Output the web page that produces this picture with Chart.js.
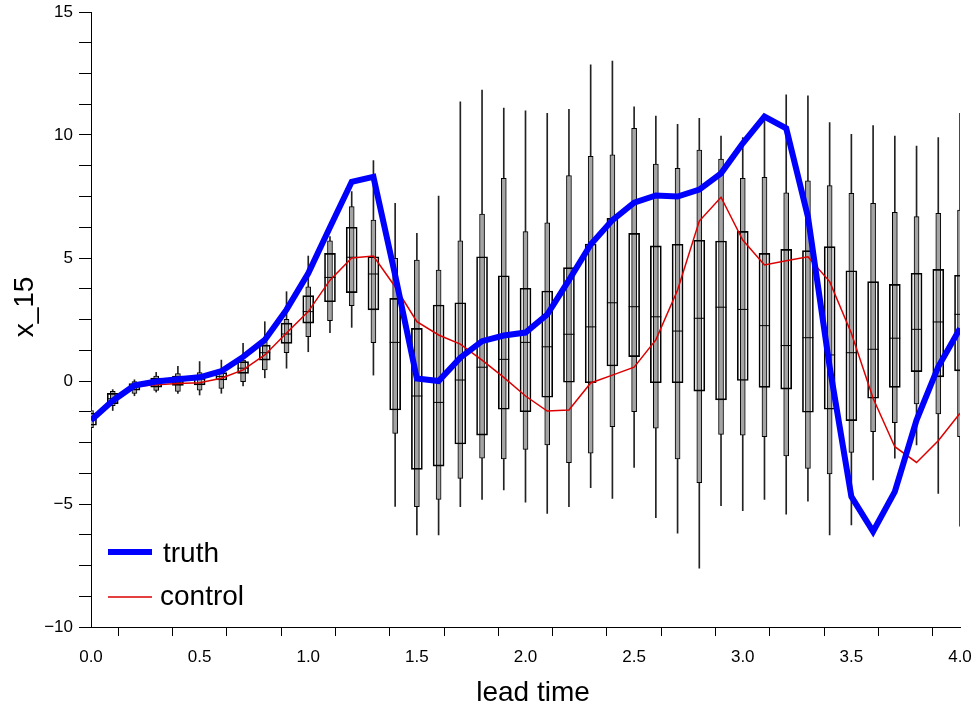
<!DOCTYPE html>
<html lang="en">
<head>
    <meta charset="UTF-8">
    <title>x_15 vs lead time</title>
    <script src="https://cdn.jsdelivr.net/npm/chart.js"></script>
    <style>
        html, body { margin: 0; padding: 0; background: #fff; }
        #wrap { width: 971px; height: 707px; }
    </style>
</head>
<body>
    <div id="wrap"><canvas id="boxChart" width="971" height="707"></canvas></div>
    <script>
        // lead times of the ensemble boxes
        const leadTime = [0.0, 0.1, 0.2, 0.3, 0.4, 0.5, 0.6, 0.7, 0.8, 0.9,
                          1.0, 1.1, 1.2, 1.3, 1.4, 1.5, 1.6, 1.7, 1.8, 1.9,
                          2.0, 2.1, 2.2, 2.3, 2.4, 2.5, 2.6, 2.7, 2.8, 2.9,
                          3.0, 3.1, 3.2, 3.3, 3.4, 3.5, 3.6, 3.7, 3.8, 3.9, 4.0];

        const truth = [-1.6, -0.8, -0.18, -0.02, 0.07, 0.15, 0.4, 0.98, 1.67, 2.9,
                       4.38, 6.25, 8.1, 8.3, 4.3, 0.1, 0.0, 0.95, 1.62, 1.85,
                       1.97, 2.7, 4.1, 5.55, 6.54, 7.25, 7.54, 7.5, 7.78, 8.44,
                       9.66, 10.75, 10.27, 6.68, 0.58, -4.7, -6.12, -4.5, -1.59, 0.58, 2.14];

        const control = [-1.5, -0.78, -0.22, -0.15, -0.1, -0.07, 0.11, 0.45, 1.06, 1.95,
                         2.82, 4.1, 5.0, 5.08, 3.83, 2.41, 1.87, 1.5, 0.85, 0.15,
                         -0.61, -1.22, -1.18, -0.08, 0.24, 0.56, 1.67, 3.7, 6.5, 7.47,
                         5.73, 4.72, 4.89, 5.05, 4.04, 1.94, -0.7, -2.67, -3.31, -2.43, -1.31];

        // ensemble spread per lead time
        const whiskerLow = [-2.0, -1.2, -0.6, -0.45, -0.5, -0.57, -0.5, -0.2, 0.13, 0.52,
                            1.19, 1.96, 2.18, 0.24, -5.1, -6.26, -6.26, -5.11, -4.81, -4.43,
                            -4.93, -5.38, -5.11, -4.34, -4.77, -3.51, -5.56, -6.19, -7.61, -5.07,
                            -5.27, -4.81, -5.41, -4.88, -6.26, -5.85, -4.02, -3.14, -2.6, -4.57, -5.9];
        const rangeLow = [-1.9, -1.0, -0.5, -0.38, -0.42, -0.37, -0.3, -0.03, 0.45, 1.15,
                          1.8, 2.45, 3.06, 1.56, -2.13, -5.11, -4.81, -3.96, -3.14, -3.17,
                          -2.78, -2.6, -3.32, -2.93, -1.86, -1.25, -1.92, -3.17, -4.13, -2.17,
                          -2.2, -2.26, -3.05, -3.55, -3.78, -2.9, -2.06, -1.69, -0.93, -1.34, -2.26];
        const q1 = [-1.8, -0.92, -0.37, -0.25, -0.18, -0.16, 0.04, 0.31, 0.85, 1.53,
                    2.35, 3.22, 3.59, 2.89, -1.18, -3.59, -3.46, -2.56, -2.2, -1.15,
                    -1.25, -0.66, -0.05, -0.07, 0.61, 0.99, -0.07, -0.07, -0.41, -0.77,
                    0.0, -0.26, -0.33, -1.27, -1.15, -1.61, -0.7, -0.26, 0.38, 0.17, 0.41];
        const median = [-1.55, -0.72, -0.22, -0.08, -0.05, 0.07, 0.18, 0.52, 1.15, 1.91,
                        2.82, 4.21, 5.03, 4.35, 1.57, -0.61, -0.87, 0.04, 0.56, 0.88,
                        1.57, 1.39, 1.9, 2.2, 3.18, 3.02, 2.61, 2.03, 2.55, 3.0,
                        2.91, 2.25, 1.44, 1.76, 1.06, 1.15, 1.29, 1.74, 2.1, 2.4, 2.71];
        const q3 = [-1.3, -0.5, -0.1, 0.12, 0.2, 0.24, 0.34, 0.79, 1.46, 2.35,
                    3.47, 5.19, 6.25, 5.05, 3.36, 2.14, 3.09, 3.18, 5.05, 4.28,
                    3.77, 3.66, 4.61, 5.57, 6.61, 6.0, 5.49, 5.56, 5.72, 5.69,
                    6.08, 5.19, 5.35, 5.3, 5.46, 4.48, 4.04, 3.93, 4.38, 4.54, 4.3];
        const rangeHigh = [-1.2, -0.42, 0.0, 0.2, 0.3, 0.34, 0.45, 0.85, 1.6, 2.51,
                           3.83, 5.7, 7.09, 6.54, 4.99, 4.92, 4.51, 5.7, 6.79, 8.24,
                           6.07, 6.43, 8.35, 9.13, 9.19, 10.27, 8.82, 8.65, 9.39, 9.02,
                           8.24, 8.28, 7.65, 8.14, 7.94, 7.63, 7.22, 6.86, 6.68, 6.82, 6.95];
        const whiskerHigh = [-1.05, -0.35, 0.05, 0.35, 0.6, 0.79, 0.85, 1.53, 2.41, 3.63,
                             5.08, 5.87, 7.7, 8.96, 7.22, 6.0, 7.52, 11.35, 11.83, 11.09,
                             10.98, 10.88, 11.04, 12.85, 13.0, 11.15, 10.77, 10.43, 10.68, 9.96,
                             9.9, 10.74, 11.63, 11.59, 10.5, 10.03, 10.38, 9.96, 9.55, 9.9, 10.88];

        const FONT = "'Liberation Sans', Arial, sans-serif";

        function pairs(lo, hi) {
            return leadTime.map((t, i) => ({ x: t, y: [lo[i], hi[i]] }));
        }
        function points(vals) {
            return leadTime.map((t, i) => ({ x: t, y: vals[i] }));
        }

        // legend and axis titles drawn on the canvas like the original plot
        const annotations = {
            id: 'annotations',
            afterDraw(chart) {
                const ctx = chart.ctx;
                ctx.save();
                ctx.fillStyle = '#000';
                ctx.font = '28px ' + FONT;
                ctx.textBaseline = 'alphabetic';

                ctx.textAlign = 'center';
                ctx.fillText('lead time', 533, 701);

                ctx.save();
                ctx.translate(33, 307);
                ctx.rotate(-Math.PI / 2);
                ctx.fillText('x_15', 0, 0);
                ctx.restore();

                ctx.textAlign = 'left';
                ctx.strokeStyle = '#0000ff';
                ctx.lineWidth = 6;
                ctx.beginPath();
                ctx.moveTo(108, 552);
                ctx.lineTo(152, 552);
                ctx.stroke();
                ctx.fillText('truth', 163, 562);

                ctx.strokeStyle = '#dd0000';
                ctx.lineWidth = 1.5;
                ctx.beginPath();
                ctx.moveTo(108, 597);
                ctx.lineTo(152, 597);
                ctx.stroke();
                ctx.fillText('control', 160, 605);
                ctx.restore();
            }
        };

        new Chart(document.getElementById('boxChart'), {
            type: 'bar',
            data: {
                datasets: [
                    {
                        type: 'line', label: 'truth', data: points(truth),
                        borderColor: '#0000ff', borderWidth: 6, pointRadius: 0,
                        borderJoinStyle: 'miter', order: 0
                    },
                    {
                        type: 'line', label: 'control', data: points(control),
                        borderColor: '#dd0000', borderWidth: 1.5, pointRadius: 0, order: 1
                    },
                    {
                        type: 'line', label: 'median', data: points(median), showLine: false,
                        pointStyle: 'line', pointRadius: 5.5, pointBorderWidth: 1,
                        pointBorderColor: '#000', order: 2
                    },
                    {
                        label: 'box', data: pairs(q1, q3), barThickness: 11,
                        backgroundColor: 'rgba(0,0,0,0)', borderColor: '#000',
                        borderWidth: 1, borderSkipped: false, order: 3
                    },
                    {
                        label: 'range', data: pairs(rangeLow, rangeHigh), barThickness: 5,
                        backgroundColor: '#a4a4a4', borderColor: '#000',
                        borderWidth: 1, borderSkipped: false, order: 4
                    },
                    {
                        label: 'whisker', data: pairs(whiskerLow, whiskerHigh), barThickness: 1,
                        backgroundColor: '#222', borderWidth: 0, order: 5
                    }
                ]
            },
            options: {
                responsive: false,
                animation: false,
                events: [],
                grouped: false,
                layout: { padding: { top: 12, right: 11, left: 0, bottom: 0 } },
                plugins: { legend: { display: false }, tooltip: { enabled: false } },
                scales: {
                    x: {
                        type: 'linear', min: 0, max: 4, offset: false,
                        afterFit(scale) {
                            scale.height = 80;
                            scale.paddingLeft = 0;
                            scale.paddingRight = 0;
                        },
                        border: { color: '#000', width: 1 },
                        grid: { drawOnChartArea: false, tickLength: 9, tickColor: '#000' },
                        ticks: {
                            stepSize: 0.25, padding: 11, color: '#000', maxRotation: 0,
                            autoSkip: false, font: { family: FONT, size: 17 },
                            callback: v => (Math.abs(v * 2 - Math.round(v * 2)) < 1e-6 ? v.toFixed(1) : '')
                        }
                    },
                    y: {
                        min: -10, max: 15,
                        afterFit(scale) {
                            scale.width = 91;
                            scale.paddingTop = 0;
                            scale.paddingBottom = 0;
                        },
                        border: { color: '#000', width: 1 },
                        grid: { drawOnChartArea: false, tickLength: 12, tickColor: '#000' },
                        ticks: {
                            stepSize: 1.25, padding: 6, color: '#000', autoSkip: false,
                            font: { family: FONT, size: 17 },
                            callback: v => (v % 5 === 0 ? String(v).replace('-', '\u2212') : '')
                        }
                    }
                }
            },
            plugins: [annotations]
        });
    </script>
</body>
</html>
